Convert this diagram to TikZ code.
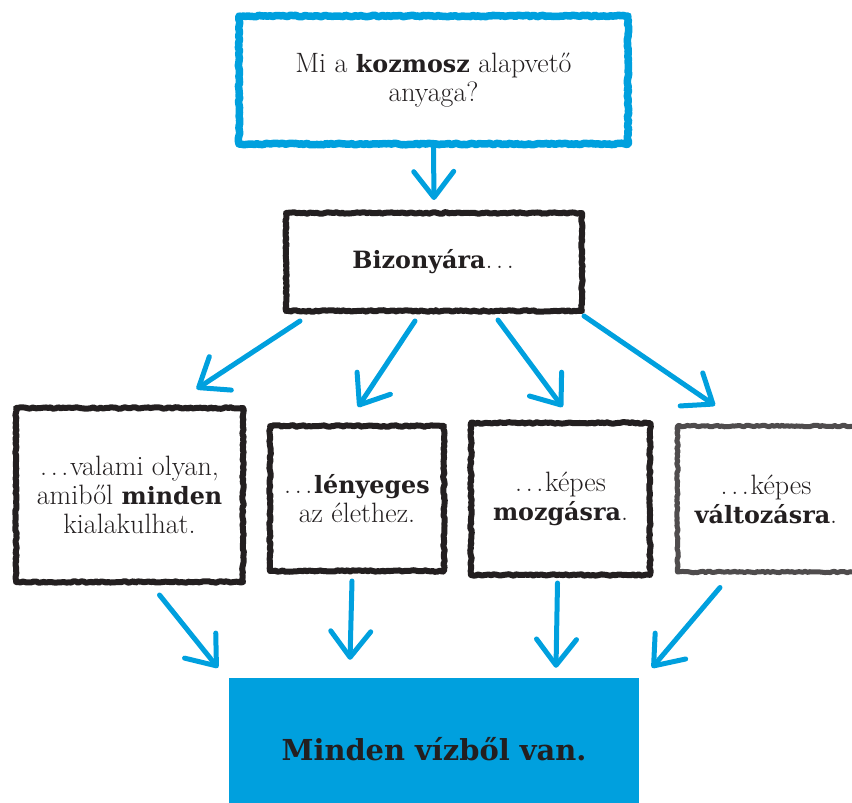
\documentclass[tikz,border=0pt]{standalone}
\usepackage{fontspec}
\usetikzlibrary{arrows.meta,decorations.pathmorphing}
\newfontfamily\slab{DejaVu Serif}[Scale=0.85]
\newcommand\hl[1]{{\slab\bfseries #1}}
\newcommand\dotz{.\kern.13em.\kern.13em.\kern.06em}
\definecolor{kblue}{RGB}{0,160,222}
\definecolor{ink}{RGB}{35,31,32}

\begin{document}
\begin{tikzpicture}[x=1pt, y=-1pt,
	every node/.style={text=ink, align=center, font=\fontsize{28}{29}\selectfont},
	sketch/.style={draw, line join=round, decorate, decoration={random steps, segment length=2.5pt, amplitude=0.8pt}},
	bluebox/.style={sketch, draw=kblue, line width=7.5pt},
	inkbox/.style={sketch, draw=ink, line width=6pt},
	arr/.style={kblue, line width=5pt, line cap=round, -{Straight Barb[length=26pt, width=40pt, round]}}]
	\useasboundingbox (0,0) rectangle (852,803);

	\node[bluebox, minimum width=389, minimum height=128] (q) at (433.5,80) {Mi a \hl{kozmosz} alapvető\\anyaga?};
	\node[inkbox, minimum width=296, minimum height=98] (biz) at (434,262) {\hl{Bizonyára}\dotz};

	\node[inkbox, minimum width=227, minimum height=174] (b1) at (129.5,495) {\dotz valami olyan,\\amiből \hl{minden}\\kialakulhat.};
	\node[inkbox, minimum width=174, minimum height=145] (b2) at (357,498.5) {\dotz\hl{lényeges}\\az élethez.};
	\node[inkbox, minimum width=179, minimum height=152] (b3) at (560.5,499) {\dotz képes\\\hl{mozgásra}.};
	\node[inkbox, draw=ink!80, line width=5pt, minimum width=197, minimum height=146] (b4) at (776,499) {};
	\node (b4t) at (766,499) {\dotz képes\\\hl{változásra}.};

	\node[fill=kblue, minimum width=410, minimum height=125, text height=39pt, text depth=0pt,
		font=\slab\bfseries\fontsize{34}{36}\selectfont] (water) at (434,740.5) {Minden vízből van.};

	\draw[arr] (q.south) -- ([yshift=10pt]biz.north);

	\draw[arr] ([xshift=-134pt,yshift=-7pt]biz.south) -- ([xshift=67pt,yshift=16pt]b1.north);
	\draw[arr] ([xshift=-19pt,yshift=-7pt]biz.south) -- ([xshift=1pt,yshift=16pt]b2.north);
	\draw[arr] ([xshift=64pt,yshift=-6pt]biz.south) -- ([xshift=2pt,yshift=13pt]b3.north);
	\draw[arr] ([xshift=150pt,yshift=-2pt]biz.south) -- ([xshift=-61pt,yshift=18pt]b4.north);

	\draw[arr] ([xshift=30pt,yshift=-10pt]b1.south) -- ([xshift=-216pt,yshift=10pt]water.north);
	\draw[arr] ([xshift=-5pt,yshift=-7pt]b2.south) -- ([xshift=-84pt,yshift=18pt]water.north);
	\draw[arr] ([xshift=-3pt,yshift=-5pt]b3.south) -- ([xshift=122pt,yshift=10pt]water.north);
	\draw[arr] ([xshift=-56pt,yshift=-13pt]b4.south) -- ([xshift=218pt,yshift=10pt]water.north);
\end{tikzpicture}
\end{document}
